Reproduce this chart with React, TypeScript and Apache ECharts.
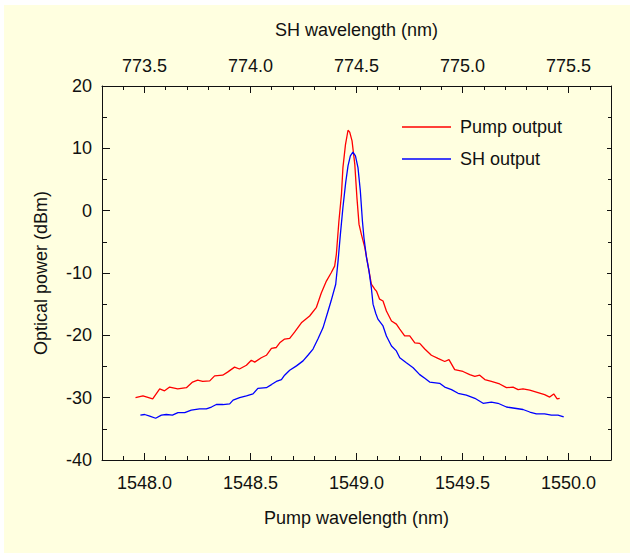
import React, { useEffect, useRef } from "react";
import * as echarts from "echarts";

// Pump output (red)
const pumpWl = [
  1547.958, 1547.993, 1548.039, 1548.072, 1548.095, 1548.119, 1548.157, 1548.198, 1548.227, 1548.251,
  1548.275, 1548.308, 1548.331, 1548.369, 1548.392, 1548.425, 1548.448, 1548.481, 1548.504, 1548.52,
  1548.551, 1548.575, 1548.599, 1548.622, 1548.638, 1548.661, 1548.685, 1548.708, 1548.74, 1548.779,
  1548.811, 1548.834, 1548.858, 1548.88, 1548.897, 1548.905, 1548.917, 1548.929, 1548.936, 1548.948,
  1548.96, 1548.968, 1548.979, 1548.992, 1549.002, 1549.012, 1549.023, 1549.039, 1549.054, 1549.07,
  1549.086, 1549.094, 1549.109, 1549.125, 1549.141, 1549.165, 1549.188, 1549.204, 1549.227, 1549.251,
  1549.275, 1549.298, 1549.322, 1549.353, 1549.384, 1549.416, 1549.436, 1549.463, 1549.502, 1549.534,
  1549.558, 1549.581, 1549.605, 1549.636, 1549.675, 1549.707, 1549.738, 1549.762, 1549.785, 1549.817,
  1549.848, 1549.887, 1549.911, 1549.93, 1549.946, 1549.958,
];
const pumpPower = [
  -30.0, -29.7, -30.2, -28.6, -28.9, -28.3, -28.6, -28.4, -27.5, -27.2,
  -27.4, -27.3, -26.5, -26.4, -25.9, -25.1, -25.4, -24.8, -24.0, -24.3,
  -23.6, -23.2, -22.1, -21.95, -21.2, -20.6, -20.5, -19.5, -18.0, -16.9,
  -15.5, -13.2, -11.3, -10.0, -8.9, -7.0, -1.7, 2.6, 6.9, 10.6,
  12.9, 12.6, 11.2, 7.4, 2.1, -2.2, -3.8, -5.9, -8.7, -11.8,
  -12.6, -12.9, -14.2, -14.5, -16.1, -17.7, -18.2, -19.0, -20.1, -20.1,
  -21.2, -21.3, -22.2, -23.2, -23.7, -24.2, -23.9, -25.5, -25.8, -26.3,
  -26.6, -26.4, -27.1, -27.4, -27.8, -28.4, -28.3, -28.7, -28.6, -28.8,
  -29.1, -29.5, -29.9, -29.4, -30.2, -30.1,
];

// SH output (blue)
const shWl = [
  1547.981, 1548.001, 1548.025, 1548.053, 1548.08, 1548.103, 1548.132, 1548.158, 1548.19, 1548.221,
  1548.26, 1548.292, 1548.316, 1548.339, 1548.37, 1548.402, 1548.418, 1548.449, 1548.481, 1548.512,
  1548.535, 1548.575, 1548.599, 1548.622, 1548.646, 1548.661, 1548.685, 1548.717, 1548.748, 1548.771,
  1548.795, 1548.818, 1548.842, 1548.866, 1548.88, 1548.902, 1548.913, 1548.924, 1548.936, 1548.949,
  1548.96, 1548.971, 1548.983, 1548.995, 1549.007, 1549.018, 1549.028, 1549.035, 1549.047, 1549.059,
  1549.07, 1549.078, 1549.091, 1549.101, 1549.125, 1549.141, 1549.165, 1549.188, 1549.204, 1549.235,
  1549.267, 1549.298, 1549.322, 1549.345, 1549.392, 1549.416, 1549.448, 1549.479, 1549.518, 1549.558,
  1549.597, 1549.636, 1549.667, 1549.707, 1549.746, 1549.785, 1549.817, 1549.848, 1549.887, 1549.919,
  1549.95, 1549.977,
];
const shPower = [
  -32.8, -32.7, -32.95, -33.3, -32.8, -32.7, -32.8, -32.4, -32.4, -32.0,
  -31.8, -31.8, -31.5, -31.1, -31.1, -31.0, -30.4, -30.0, -29.7, -29.4,
  -28.5, -28.4, -27.9, -27.4, -27.1, -26.4, -25.6, -24.9, -24.1, -23.2,
  -22.2, -20.6, -18.8, -16.1, -14.5, -11.8, -8.1, -3.8, 0.5, 4.5,
  7.2, 8.8, 9.4, 8.8, 6.9, 3.2, -1.7, -4.3, -7.5, -9.7,
  -12.4, -15.0, -16.5, -17.4, -18.5, -20.1, -21.7, -22.5, -23.6, -24.4,
  -25.2, -26.3, -26.9, -27.5, -27.7, -28.3, -28.7, -29.3, -29.6, -30.1,
  -30.9, -30.7, -30.9, -31.5, -31.7, -31.9, -32.3, -32.6, -32.6, -32.8,
  -32.8, -33.1,
];

const pumpTicks = [1548.0, 1548.5, 1549.0, 1549.5, 1550.0];
const shTicks = [773.5, 774.0, 774.5, 775.0, 775.5];
const powerTicks = [-40, -30, -20, -10, 0, 10, 20];

const FONT = "'Liberation Sans', Arial, sans-serif";
const AX = "#111";

export default function App() {
  const ref = useRef<HTMLDivElement>(null);
  useEffect(() => {
    if (!ref.current) return;
    const chart = echarts.init(ref.current, null, { renderer: "svg" });
    const lbl = { fontSize: 18, color: "#111", fontFamily: FONT };
    const line = { show: true, onZero: false, lineStyle: { color: AX, width: 1 } };
    const xMin = 1547.8, xMax = 1550.2, tMin = 773.3, tMax = 775.7;
    chart.setOption({
      animation: false,
      backgroundColor: "#FFFFE0",
      textStyle: { fontFamily: FONT },
      grid: { left: 98, right: 19, top: 81, bottom: 93, containLabel: false },
      legend: {
        orient: "vertical",
        left: 398,
        top: 113,
        padding: 0,
        itemWidth: 49,
        itemHeight: 1.5,
        itemGap: 14,
        data: [
          { name: "Pump output", icon: "rect" },
          { name: "SH output", icon: "rect" },
        ],
        textStyle: { ...lbl, lineHeight: 18, padding: [0, 0, 0, 4] },
      },
      xAxis: [
        {
          type: "value", position: "bottom", min: xMin, max: xMax, interval: 0.1,
          axisLine: line,
          axisTick: { show: true, inside: true, length: 4, lineStyle: { color: AX } },
          axisLabel: { ...lbl, margin: 14, customValues: pumpTicks, formatter: (v: number) => v.toFixed(1) },
          splitLine: { show: false },
          name: "Pump wavelength (nm)", nameLocation: "middle", nameGap: 49,
          nameTextStyle: lbl,
        },
        {
          type: "value", position: "bottom", min: xMin, max: xMax,
          axisLine: { show: false, onZero: false },
          axisTick: { show: true, inside: true, length: 7, customValues: pumpTicks, lineStyle: { color: AX } },
          axisLabel: { show: false },
          splitLine: { show: false },
        },
        {
          type: "value", position: "top", min: tMin, max: tMax, interval: 0.1,
          axisLine: line,
          axisTick: { show: true, inside: true, length: 4, lineStyle: { color: AX } },
          axisLabel: { ...lbl, margin: 11, customValues: shTicks, formatter: (v: number) => v.toFixed(1) },
          splitLine: { show: false },
          name: "SH wavelength (nm)", nameLocation: "middle", nameGap: 47,
          nameTextStyle: lbl,
        },
        {
          type: "value", position: "top", min: tMin, max: tMax,
          axisLine: { show: false, onZero: false },
          axisTick: { show: true, inside: true, length: 7, customValues: shTicks, lineStyle: { color: AX } },
          axisLabel: { show: false },
          splitLine: { show: false },
        },
      ],
      yAxis: [
        {
          type: "value", position: "left", min: -40, max: 20, interval: 10,
          axisLine: line,
          axisTick: { show: true, inside: true, length: 8, lineStyle: { color: AX } },
          minorTick: { show: true, splitNumber: 2, length: 5, lineStyle: { color: AX } },
          axisLabel: { ...lbl, margin: 10, customValues: powerTicks },
          splitLine: { show: false },
          minorSplitLine: { show: false },
          name: "Optical power (dBm)", nameLocation: "middle", nameGap: 52,
          nameTextStyle: lbl,
        },
        {
          type: "value", position: "right", min: -40, max: 20, interval: 10,
          axisLine: line,
          axisTick: { show: true, inside: true, length: 4, lineStyle: { color: AX } },
          minorTick: { show: true, splitNumber: 2, length: 3, lineStyle: { color: AX } },
          axisLabel: { show: false },
          splitLine: { show: false },
        },
      ],
      series: [
        {
          name: "Pump output", type: "line", xAxisIndex: 0, yAxisIndex: 0,
          symbol: "none", smooth: false,
          lineStyle: { color: "#ff0000", width: 1.3 },
          itemStyle: { color: "#ff0000" },
          data: pumpWl.map((x, i) => [x, pumpPower[i]]),
        },
        {
          name: "SH output", type: "line", xAxisIndex: 0, yAxisIndex: 0,
          symbol: "none", smooth: false,
          lineStyle: { color: "#0000ff", width: 1.3 },
          itemStyle: { color: "#0000ff" },
          data: shWl.map((x, i) => [x, shPower[i]]),
        },
      ],
    });
    return () => chart.dispose();
  }, []);
  return (
    <div style={{ position: "fixed", left: 0, top: 0, width: 630, height: 553, background: "#ffffff" }}>
      <div ref={ref} style={{ position: "absolute", left: 4, top: 5, width: 626, height: 548 }} />
    </div>
  );
}
